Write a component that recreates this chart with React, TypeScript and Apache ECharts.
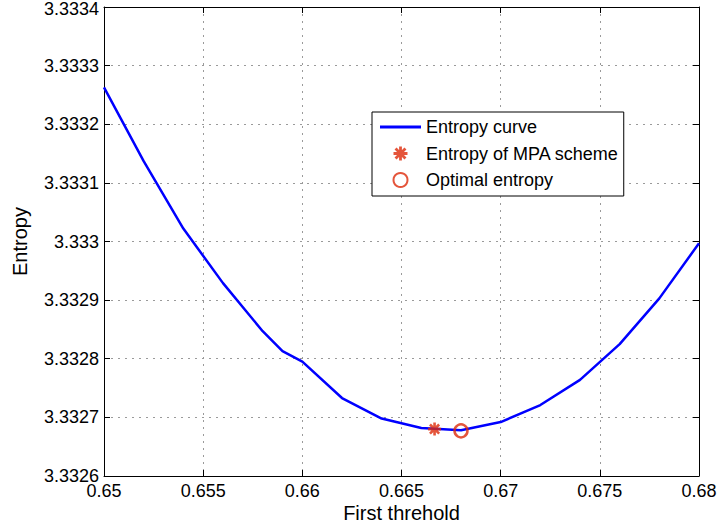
import React, { useEffect, useRef } from "react";
import * as echarts from "echarts";

const thresholds = [0.65, 0.652, 0.654, 0.656, 0.658, 0.659, 0.66, 0.662, 0.664, 0.666, 0.668, 0.67, 0.672, 0.674, 0.676, 0.678, 0.68];
const entropy = [3.333263, 3.333137, 3.333022, 3.332929, 3.332847, 3.332813, 3.332795, 3.332733, 3.332698, 3.332682, 3.332678, 3.332692, 3.332721, 3.332764, 3.332825, 3.332903, 3.332997];
const mpaPoint = [0.666667, 3.33268];
const optimalPoint = [0.668, 3.332677];
const seriesNames = ["Entropy curve", "Entropy of MPA scheme", "Optimal entropy"];

const FONT = "'Liberation Sans', Arial, Helvetica, sans-serif";
const ASTERISK =
  "path://M0 8 L20 8 L20 12 L0 12 Z M8 0 L12 0 L12 20 L8 20 Z " +
  "M4.34 1.51 L18.49 15.66 L15.66 18.49 L1.51 4.34 Z M1.51 15.66 L15.66 1.51 L18.49 4.34 L4.34 18.49 Z";

const fmt = (v: number) => String(parseFloat(v.toFixed(4)));
const fmtY = (v: number) => (v >= 3.33339 ? "{top|" + fmt(v) + "}" : fmt(v));

export default function App() {
  const ref = useRef<HTMLDivElement>(null);
  useEffect(() => {
    if (!ref.current) return;
    const chart = echarts.init(ref.current, null, { renderer: "svg" });
    const gridLine = { show: true, lineStyle: { color: "#9a9a9a", type: [2, 5] as any, width: 1 } };
    const axisLine = { show: true, onZero: false, lineStyle: { color: "#000", width: 1 } };
    const tick = { show: true, inside: true, length: 6, lineStyle: { color: "#000" } };
    chart.setOption({
      animation: false,
      backgroundColor: "#fff",
      textStyle: { fontFamily: FONT },
      grid: { left: 104, right: 22, top: 7, bottom: 51, containLabel: false, outerBoundsMode: "none" },
      legend: {
        orient: "vertical",
        left: 372,
        top: 112,
        align: "left",
        padding: [6, 5, 7, 8],
        itemWidth: 41,
        itemHeight: 14,
        itemGap: 8.5,
        backgroundColor: "#fff",
        borderColor: "#000",
        borderWidth: 1,
        borderRadius: 0,
        textStyle: { fontFamily: FONT, fontSize: 18, color: "#000", padding: [0, 0, 0, 0] },
        data: [
          { name: seriesNames[0], icon: "path://M0 0 L40 0 L40 3 L0 3 Z", itemStyle: { color: "#0000ff" } },
          { name: seriesNames[1], icon: ASTERISK },
          { name: seriesNames[2], icon: "circle" },
        ],
      },
      xAxis: [
        {
          type: "value",
          min: 0.65,
          max: 0.68,
          interval: 0.005,
          name: "First threhold",
          nameLocation: "middle",
          nameGap: 27,
          nameMoveOverlap: false,
          nameTextStyle: { fontSize: 20, lineHeight: 20, color: "#000", fontFamily: FONT },
          axisLine,
          axisTick: tick,
          splitLine: gridLine,
          axisLabel: { fontSize: 18, lineHeight: 17, color: "#000", margin: 6.5, formatter: fmt, fontFamily: FONT },
        },
        {
          type: "value",
          position: "top",
          min: 0.65,
          max: 0.68,
          interval: 0.005,
          axisLine,
          axisTick: tick,
          splitLine: { show: false },
          axisLabel: { show: false },
        },
      ],
      yAxis: [
        {
          type: "value",
          min: 3.3326,
          max: 3.3334,
          interval: 0.0001,
          name: "Entropy",
          nameLocation: "middle",
          nameGap: 74,
          nameMoveOverlap: false,
          nameTextStyle: { fontSize: 20, color: "#000", fontFamily: FONT },
          axisLine,
          axisTick: tick,
          splitLine: gridLine,
          axisLabel: {
            fontSize: 18,
            color: "#000",
            margin: 5,
            formatter: fmtY,
            fontFamily: FONT,
            rich: { top: { fontSize: 18, color: "#000", fontFamily: FONT, padding: [4, 0, 0, 0] } },
          },
        },
        {
          type: "value",
          position: "right",
          min: 3.3326,
          max: 3.3334,
          interval: 0.0001,
          axisLine,
          axisTick: tick,
          splitLine: { show: false },
          axisLabel: { show: false },
        },
      ],
      series: [
        {
          name: seriesNames[0],
          type: "line",
          data: thresholds.map((x, i) => [x, entropy[i]]),
          symbol: "none",
          lineStyle: { color: "#0000ff", width: 2.5 },
          itemStyle: { color: "#0000ff" },
          z: 2,
        },
        {
          name: seriesNames[1],
          type: "scatter",
          data: [mpaPoint],
          symbol: ASTERISK,
          symbolSize: 13,
          itemStyle: { color: "#dd2a0a" },
          z: 3,
        },
        {
          name: seriesNames[2],
          type: "scatter",
          data: [optimalPoint],
          symbol: "circle",
          symbolSize: 13,
          itemStyle: { color: "rgba(0,0,0,0)", borderColor: "#dd2a0a", borderWidth: 2.5 },
          z: 3,
        },
      ],
    });
    return () => chart.dispose();
  }, []);
  return <div ref={ref} style={{ width: 721, height: 527, position: "absolute", left: 0, top: 0 }} />;
}
